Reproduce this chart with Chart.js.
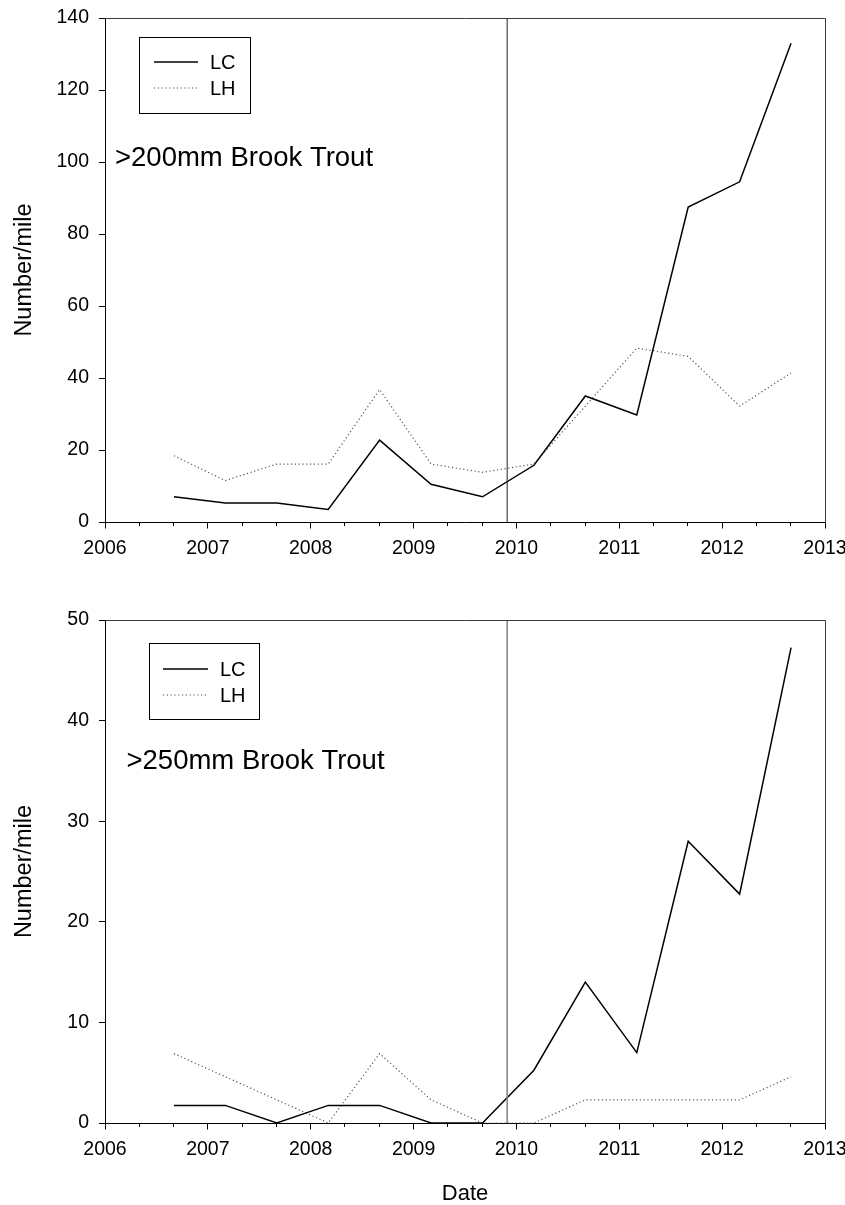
<!DOCTYPE html>
<html>
<head>
<meta charset="utf-8">
<script src="https://cdn.jsdelivr.net/npm/chart.js@4.4.1/dist/chart.umd.min.js"></script>
<style>
  html, body { margin: 0; padding: 0; background: #fff; }
  #wrap { position: relative; width: 845px; height: 1205px; }
  canvas { position: absolute; left: 0; }
</style>
</head>
<body>
<div id="wrap">
  <canvas id="c200" width="845" height="600" style="top:0px"></canvas>
  <canvas id="c250" width="845" height="605" style="top:600px"></canvas>
</div>
<script>
// Sampling dates (spring and fall surveys), decimal years
const sampleDates = [2006.67, 2007.17, 2007.67, 2008.17, 2008.67, 2009.17, 2009.67,
                     2010.17, 2010.67, 2011.17, 2011.67, 2012.17, 2012.67];

// >200 mm brook trout, number per mile
const lc200 = [7, 5.25, 5.25, 3.5, 22.75, 10.5, 7, 15.75, 35, 29.75, 87.5, 94.5, 133];
const lh200 = [18.4, 11.5, 16.1, 16.1, 36.8, 16.1, 13.8, 16.1, 32.2, 48.3, 46, 32.2, 41.4];

// >250 mm brook trout, number per mile
const lc250 = [1.75, 1.75, 0, 1.75, 1.75, 0, 0, 5.25, 14, 7, 28, 22.75, 47.25];
const lh250 = [6.9, 4.6, 2.3, 0, 6.9, 2.3, 0, 0, 2.3, 2.3, 2.3, 2.3, 4.6];

// Axis ticks and labels
const yearTicks = [2006, 2007, 2008, 2009, 2010, 2011, 2012, 2013];
const yTicks200 = [0, 20, 40, 60, 80, 100, 120, 140];
const yTicks250 = [0, 10, 20, 30, 40, 50];
const seriesNames = ['LC', 'LH'];
const captions = ['>200mm Brook Trout', '>250mm Brook Trout'];
const yTitle = 'Number/mile';
const xTitle = 'Date';

// Date of the treatment marker line
const markerDate = 2009.91;

const FONT = '"Liberation Sans", Arial, Helvetica, sans-serif';

// Minor ticks every third of a year between the labelled years
function xTickList() {
  const out = [];
  for (let i = 0; i < yearTicks.length; i++) {
    out.push({ value: yearTicks[i] });
    if (i < yearTicks.length - 1) {
      out.push({ value: yearTicks[i] + 1 / 3 });
      out.push({ value: yearTicks[i] + 2 / 3 });
    }
  }
  return out;
}

function alignPx(v) { return Math.round(v - 0.5) + 0.5; }

// Frame, longer year ticks, boxed legend and caption
const panelDecor = {
  id: 'panelDecor',
  afterDatasetsDraw(chart, args, opts) {
    const { ctx, chartArea: a, scales } = chart;
    ctx.save();

    // top and right frame
    ctx.strokeStyle = '#3a3a3a';
    ctx.lineWidth = 1;
    ctx.beginPath();
    ctx.moveTo(alignPx(a.left), alignPx(a.top));
    ctx.lineTo(alignPx(a.right), alignPx(a.top));
    ctx.lineTo(alignPx(a.right), alignPx(a.bottom));
    ctx.stroke();

    // year ticks are longer than the minor ticks
    ctx.strokeStyle = '#000';
    ctx.beginPath();
    yearTicks.forEach(yr => {
      const px = alignPx(scales.x.getPixelForValue(yr));
      ctx.moveTo(px, a.bottom);
      ctx.lineTo(px, a.bottom + 6.5);
    });
    ctx.stroke();

    // legend box
    const L = opts.legend;
    const bx = a.left + L.x, by = a.top + L.y;
    ctx.strokeStyle = '#000';
    ctx.lineWidth = 1;
    ctx.strokeRect(Math.round(bx) + 0.5, Math.round(by) + 0.5, L.w, L.h);
    const ds = chart.data.datasets.filter(d => seriesNames.includes(d.label));
    ds.forEach((d, i) => {
      const ly = by + L.rowY[i];
      ctx.save();
      ctx.strokeStyle = d.borderColor;
      ctx.lineWidth = d.borderWidth;
      ctx.setLineDash(d.borderDash || []);
      ctx.beginPath();
      ctx.moveTo(bx + L.lineX0, ly);
      ctx.lineTo(bx + L.lineX1, ly);
      ctx.stroke();
      ctx.restore();
      ctx.fillStyle = '#000';
      ctx.font = '20px ' + FONT;
      ctx.textBaseline = 'middle';
      ctx.textAlign = 'left';
      ctx.fillText(d.label, bx + L.textX, ly + 1);
    });

    // caption
    ctx.fillStyle = '#000';
    ctx.font = '27.5px ' + FONT;
    ctx.textBaseline = 'alphabetic';
    ctx.textAlign = 'left';
    ctx.fillText(opts.caption, a.left + opts.capX, a.top + opts.capY);

    ctx.restore();
  }
};

function makePanel(canvasId, lc, lh, yTicks, cfg) {
  const yMax = yTicks[yTicks.length - 1];
  const toXY = arr => arr.map((v, i) => ({ x: sampleDates[i], y: v }));
  return new Chart(document.getElementById(canvasId), {
    type: 'line',
    data: {
      datasets: [
        {
          label: 'marker',
          data: [{ x: markerDate, y: 0 }, { x: markerDate, y: yMax }],
          borderColor: cfg.markerColor,
          borderWidth: cfg.markerWidth,
          pointRadius: 0,
          clip: false
        },
        {
          label: seriesNames[0],
          data: toXY(lc),
          borderColor: '#000',
          borderWidth: 1.5,
          pointRadius: 0,
          tension: 0,
          clip: false
        },
        {
          label: seriesNames[1],
          data: toXY(lh),
          borderColor: '#555',
          borderWidth: 1.2,
          borderDash: [1.2, 2.6],
          pointRadius: 0,
          tension: 0,
          clip: false
        }
      ]
    },
    options: {
      responsive: false,
      animation: false,
      devicePixelRatio: 1,
      layout: { padding: { top: cfg.padTop, right: 20, left: 0, bottom: 0 } },
      plugins: {
        legend: { display: false },
        tooltip: { enabled: false },
        panelDecor: {
          legend: cfg.legend,
          caption: cfg.caption,
          capX: cfg.capX,
          capY: cfg.capY
        }
      },
      scales: {
        x: {
          type: 'linear',
          min: yearTicks[0],
          max: yearTicks[yearTicks.length - 1],
          afterBuildTicks: s => { s.ticks = xTickList(); },
          afterFit: s => { s.height = cfg.xHeight; s.paddingLeft = 0; s.paddingRight = 0; },
          ticks: {
            autoSkip: false,
            maxRotation: 0,
            padding: 11,
            color: '#000',
            font: { family: FONT, size: 19.5 },
            callback: v => (yearTicks.includes(Math.round(v)) && Math.abs(v - Math.round(v)) < 1e-6) ? String(Math.round(v)) : ''
          },
          grid: { drawOnChartArea: false, drawTicks: true, tickLength: 4, color: '#000', lineWidth: 1 },
          border: { display: true, color: '#000', width: 1 },
          title: cfg.showXTitle ? {
            display: true,
            text: xTitle,
            color: '#000',
            font: { family: FONT, size: 22, lineHeight: 1 },
            padding: { top: 0, bottom: 0 }
          } : { display: false }
        },
        y: {
          type: 'linear',
          min: 0,
          max: yMax,
          afterBuildTicks: s => { s.ticks = yTicks.map(v => ({ value: v })); },
          afterFit: s => { s.width = 105; s.paddingTop = 0; s.paddingBottom = 0; },
          ticks: {
            padding: 10,
            color: '#000',
            font: { family: FONT, size: 19.5 }
          },
          grid: { drawOnChartArea: false, drawTicks: true, tickLength: 6, color: '#000', lineWidth: 1 },
          border: { display: true, color: '#000', width: 1 },
          title: {
            display: true,
            text: yTitle,
            color: '#000',
            font: { family: FONT, size: 23.5, lineHeight: 1 },
            padding: { top: 13, bottom: 0 }
          }
        }
      }
    },
    plugins: [panelDecor]
  });
}

makePanel('c200', lc200, lh200, yTicks200, {
  padTop: 18,
  xHeight: 78,
  showXTitle: false,
  markerColor: '#222',
  markerWidth: 1,
  caption: captions[0],
  capX: 10,
  capY: 147.5,
  legend: { x: 34, y: 19, w: 111, h: 76, lineX0: 15, lineX1: 59, rowY: [25, 51], textX: 71 }
});

makePanel('c250', lc250, lh250, yTicks250, {
  padTop: 20,
  xHeight: 82,
  showXTitle: true,
  markerColor: '#808080',
  markerWidth: 1.5,
  caption: captions[1],
  capX: 21.5,
  capY: 148.5,
  legend: { x: 44, y: 23, w: 110, h: 76, lineX0: 14, lineX1: 59, rowY: [26, 52], textX: 71 }
});
</script>
</body>
</html>
